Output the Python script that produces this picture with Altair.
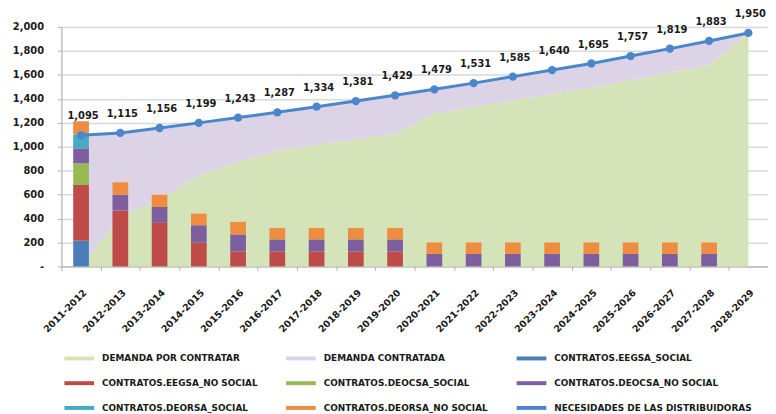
import altair as alt
import pandas as pd

# ---------------- data ----------------
years = ["2011-2012", "2012-2013", "2013-2014", "2014-2015", "2015-2016", "2016-2017",
         "2017-2018", "2018-2019", "2019-2020", "2020-2021", "2021-2022", "2022-2023",
         "2023-2024", "2024-2025", "2025-2026", "2026-2027", "2027-2028", "2028-2029"]

necesidades = [1095, 1115, 1156, 1199, 1243, 1287, 1334, 1381, 1429, 1479, 1531, 1585,
               1640, 1695, 1757, 1819, 1883, 1950]

demanda_por_contratar = [0, 413, 558, 758, 871, 967, 1014, 1061, 1109, 1279, 1331, 1385,
                         1440, 1495, 1557, 1619, 1683, 1950]
demanda_contratada = [1095, 702, 598, 441, 372, 320, 320, 320, 320, 200, 200, 200,
                      200, 200, 200, 200, 200, 0]

eegsa_social = [215, 0, 0, 0, 0, 0, 0, 0, 0, 0, 0, 0, 0, 0, 0, 0, 0, 0]
eegsa_no_social = [465, 468, 364, 198, 124, 124, 124, 124, 124, 0, 0, 0, 0, 0, 0, 0, 0, 0]
deocsa_social = [182, 0, 0, 0, 0, 0, 0, 0, 0, 0, 0, 0, 0, 0, 0, 0, 0, 0]
deocsa_no_social = [124, 130, 132, 146, 143, 102, 102, 102, 102, 105, 105, 105, 105, 105,
                    105, 105, 105, 0]
deorsa_social = [116, 0, 0, 0, 0, 0, 0, 0, 0, 0, 0, 0, 0, 0, 0, 0, 0, 0]
deorsa_no_social = [110, 104, 102, 97, 105, 94, 94, 94, 94, 95, 95, 95, 95, 95, 95, 95, 95, 0]

series_names = ["DEMANDA POR CONTRATAR", "DEMANDA CONTRATADA",
                "CONTRATOS.EEGSA_SOCIAL", "CONTRATOS.EEGSA_NO SOCIAL",
                "CONTRATOS.DEOCSA_SOCIAL", "CONTRATOS.DEOCSA_NO SOCIAL",
                "CONTRATOS.DEORSA_SOCIAL", "CONTRATOS.DEORSA_NO SOCIAL",
                "NECESIDADES DE LAS DISTRIBUIDORAS"]
series_colors = ["#d4e3b8", "#ddd3e6", "#4a7ebb", "#bf4b48", "#98b954", "#7d5fa0",
                 "#46aac4", "#ee8d40", "#4a86cc"]
y_ticks = [0, 200, 400, 600, 800, 1000, 1200, 1400, 1600, 1800, 2000]

# ---------------- tables ----------------
area_rows = []
for i, y in enumerate(years):
    area_rows.append({"year": y, "series": series_names[0], "value": demanda_por_contratar[i], "ord": 0})
    area_rows.append({"year": y, "series": series_names[1], "value": demanda_contratada[i], "ord": 1})
area_df = pd.DataFrame(area_rows)

bar_series = [eegsa_social, eegsa_no_social, deocsa_social, deocsa_no_social,
              deorsa_social, deorsa_no_social]
bar_rows = []
for k, vals in enumerate(bar_series):
    for i, y in enumerate(years):
        if vals[i] > 0:
            bar_rows.append({"year": y, "series": series_names[2 + k], "value": vals[i], "ord": k})
bar_df = pd.DataFrame(bar_rows)

line_df = pd.DataFrame({"year": years, "value": necesidades, "series": series_names[8]})

FONT = "DejaVu Sans"

xaxis = alt.Axis(title=None, labelAngle=-45, tickBand="extent", labelFont=FONT,
                 labelFontWeight="bold", labelFontSize=9.5, labelColor="#1a1a1a",
                 labelPadding=17, tickSize=4, tickColor="#b0b0b0",
                 domainColor="#b0b0b0", grid=False)
xscale = alt.Scale(type="band", paddingInner=0, paddingOuter=0)
xenc = alt.X("year:N", sort=years, bandPosition=0.5, scale=xscale, axis=xaxis)
xbar = alt.X("year:N", sort=years, scale=xscale, axis=xaxis)

yaxis = alt.Axis(title=None, values=y_ticks, labelOverlap=False,
                 labelExpr="datum.value == 0 ? '-' : format(datum.value, ',')",
                 labelFont=FONT, labelFontWeight="bold", labelFontSize=10, labelColor="#1a1a1a",
                 labelPadding=14, tickSize=4, tickColor="#b0b0b0", domainColor="#b0b0b0",
                 gridColor="#d9d9d9", gridWidth=1.5)
yscale = alt.Scale(domain=[0, 2000], nice=False)

color = alt.Color("series:N",
                  scale=alt.Scale(domain=series_names, range=series_colors),
                  legend=alt.Legend(title=None, orient="none", legendX=1, legendY=318,
                                    direction="horizontal",
                                    columns=3, symbolType="stroke", symbolStrokeWidth=4,
                                    symbolSize=900, labelFont=FONT, labelFontWeight="bold",
                                    labelFontSize=9, labelColor="#1a1a1a", labelOffset=6,
                                    columnPadding=20, rowPadding=-4, gridAlign="each",
                                    labelLimit=260, padding=0))

areas = alt.Chart(area_df).mark_area(opacity=1).encode(
    x=xenc,
    y=alt.Y("value:Q", stack="zero", scale=yscale, axis=yaxis),
    color=color,
    order=alt.Order("ord:Q"),
)

bars = alt.Chart(bar_df).mark_bar(width=alt.RelativeBandSize(0.4)).encode(
    x=xbar,
    y=alt.Y("value:Q", stack="zero", scale=yscale, axis=yaxis),
    color=color,
    order=alt.Order("ord:Q"),
)

line = alt.Chart(line_df).mark_line(strokeWidth=3, point=alt.OverlayMarkDef(
    filled=True, size=70, color="#4a86cc")).encode(
    x=xenc,
    y=alt.Y("value:Q", scale=yscale, axis=yaxis),
    color=color,
)

labels = alt.Chart(line_df).mark_text(dy=-19, dx=2, font=FONT, fontWeight="bold",
                                      fontSize=10, color="#1a1a1a").encode(
    x=xenc,
    y=alt.Y("value:Q", scale=yscale, axis=yaxis),
    text=alt.Text("value:Q", format=","),
)

chart = alt.layer(areas, bars, line, labels).properties(
    width=714, height=242,
    autosize=alt.AutoSizeParams(type="none"),
    padding={"left": 54, "top": 17, "right": 0, "bottom": 147},
).configure_view(stroke=None).configure(background="white")

chart.save("out.html", embed_options={"renderer": "svg", "actions": False})
